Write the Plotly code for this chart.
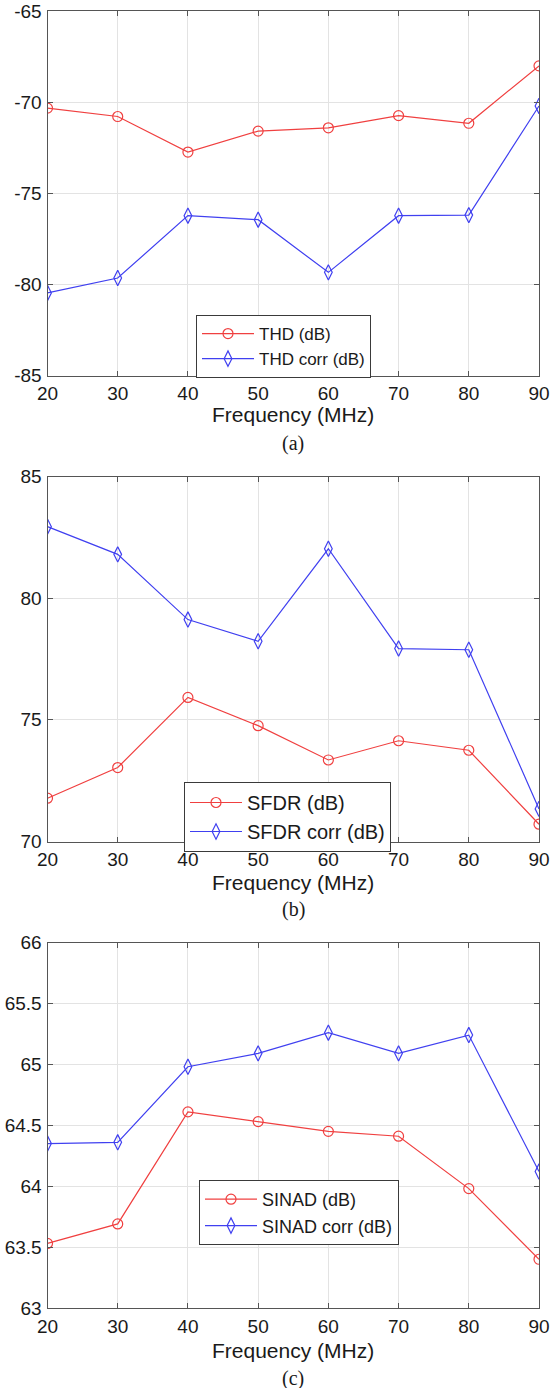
import plotly.graph_objects as go

# Frequency sweep (MHz)
freq = [20, 30, 40, 50, 60, 70, 80, 90]
freq_ticks = [20, 30, 40, 50, 60, 70, 80, 90]

# (a) Total harmonic distortion
thd = [-70.33, -70.79, -72.74, -71.59, -71.41, -70.74, -71.16, -68.01]
thd_corr = [-80.47, -79.65, -76.23, -76.45, -79.34, -76.23, -76.20, -70.21]
thd_ticks = [-85, -80, -75, -70, -65]
thd_ticklabels = ["-85", "-80", "-75", "-70", "-65"]

# (b) Spurious-free dynamic range
sfdr = [71.78, 73.04, 75.92, 74.76, 73.35, 74.14, 73.75, 70.71]
sfdr_corr = [82.94, 81.80, 79.12, 78.23, 82.03, 77.93, 77.88, 71.34]
sfdr_ticks = [70, 75, 80, 85]
sfdr_ticklabels = ["70", "75", "80", "85"]

# (c) Signal to noise and distortion
sinad = [63.53, 63.69, 64.61, 64.53, 64.45, 64.41, 63.98, 63.40]
sinad_corr = [64.35, 64.36, 64.98, 65.09, 65.26, 65.09, 65.24, 64.12]
sinad_ticks = [63, 63.5, 64, 64.5, 65, 65.5, 66]
sinad_ticklabels = ["63", "63.5", "64", "64.5", "65", "65.5", "66"]

W, H = 557, 1388
RED = "#f04040"
BLUE = "#4040f0"
FONT = "Liberation Sans, Arial, sans-serif"
SERIF = "Liberation Serif, Times New Roman, serif"


def px(x):
    return x / W


def py(y):
    return 1 - y / H


panels = [
    dict(a=thd, b=thd_corr, names=("THD (dB)", "THD corr (dB)"), rng=[-85, -65],
         tv=thd_ticks, tt=thd_ticklabels,
         top=11, bot=375.5, leg=(196, 315), lfs=17, title_y=414, cap_y=443, cap="(a)"),
    dict(a=sfdr, b=sfdr_corr, names=("SFDR (dB)", "SFDR corr (dB)"), rng=[70, 85],
         tv=sfdr_ticks, tt=sfdr_ticklabels,
         top=476.5, bot=841.5, leg=(184, 782), lfs=20, title_y=882, cap_y=910, cap="(b)"),
    dict(a=sinad, b=sinad_corr, names=("SINAD (dB)", "SINAD corr (dB)"), rng=[63, 66],
         tv=sinad_ticks, tt=sinad_ticklabels,
         top=942.5, bot=1308, leg=(199, 1180), lfs=18, title_y=1350, cap_y=1378, cap="(c)"),
]

fig = go.Figure()
annotations = []
layout = dict(
    width=W, height=H,
    margin=dict(l=0, r=0, t=0, b=0),
    paper_bgcolor="white", plot_bgcolor="white",
    font=dict(family=FONT, size=19, color="#1a1a1a"),
    showlegend=True,
)

x0, x1 = px(47.5), px(539)
for i, p in enumerate(panels):
    n = "" if i == 0 else str(i + 1)
    xa, ya = "x" + n, "y" + n
    lg = "legend" + n
    fig.add_trace(go.Scatter(
        x=freq, y=p["a"], name=p["names"][0], mode="lines+markers",
        xaxis=xa, yaxis=ya, legend=lg,
        line=dict(color=RED, width=1.2),
        marker=dict(symbol="circle-open", size=10, color=RED, line=dict(width=1.2)),
    ))
    fig.add_trace(go.Scatter(
        x=freq, y=p["b"], name=p["names"][1], mode="lines+markers",
        xaxis=xa, yaxis=ya, legend=lg,
        line=dict(color=BLUE, width=1.2),
        marker=dict(symbol="diamond-tall-open", size=11, color=BLUE, line=dict(width=1.2)),
    ))
    axis_common = dict(
        showline=True, linecolor="#555555", linewidth=1, mirror="ticks",
        showgrid=True, gridcolor="#e3e3e3", gridwidth=1,
        ticks="inside", ticklen=5, tickcolor="#555555",
        zeroline=False, automargin=False,
        tickfont=dict(family=FONT, size=19, color="#1a1a1a"),
    )
    layout["xaxis" + n] = dict(
        axis_common, domain=[x0, x1], anchor=ya, range=[20, 90],
        tickmode="array", tickvals=freq_ticks, ticktext=[str(v) for v in freq_ticks],
        ticklabelstandoff=1,
    )
    layout["yaxis" + n] = dict(
        axis_common, domain=[py(p["bot"]), py(p["top"])], anchor=xa,
        range=p["rng"], tickmode="array", tickvals=p["tv"], ticktext=p["tt"],
        ticklabelstandoff=1,
    )
    layout[lg] = dict(
        x=px(p["leg"][0]), y=py(p["leg"][1]), xanchor="left", yanchor="top",
        bgcolor="white", bordercolor="#3a3a3a", borderwidth=1,
        font=dict(family=FONT, size=p["lfs"], color="#1a1a1a"),
        itemwidth=52, tracegroupgap=0,
    )
    annotations.append(dict(
        text="Frequency (MHz)", x=(x0 + x1) / 2, y=py(p["title_y"]),
        xref="paper", yref="paper", xanchor="center", yanchor="middle",
        showarrow=False, font=dict(family=FONT, size=21, color="#1a1a1a"),
    ))
    annotations.append(dict(
        text=p["cap"], x=(x0 + x1) / 2, y=py(p["cap_y"]),
        xref="paper", yref="paper", xanchor="center", yanchor="middle",
        showarrow=False, font=dict(family=SERIF, size=20, color="#1a1a1a"),
    ))

layout["annotations"] = annotations
fig.update_layout(**layout)
fig.write_html("out.html")
